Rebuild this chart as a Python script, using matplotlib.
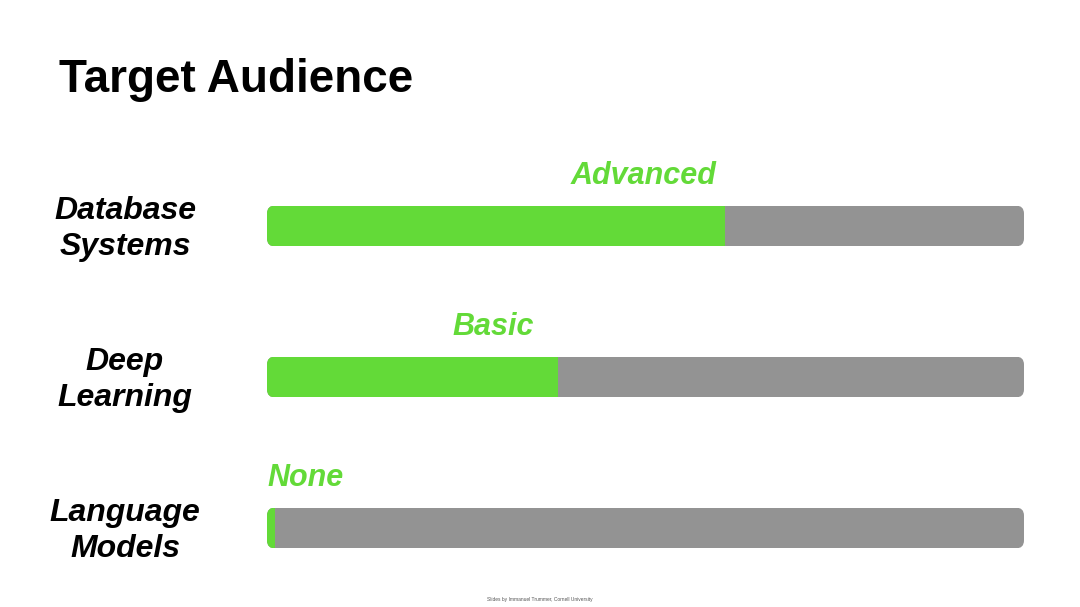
import matplotlib
matplotlib.use("Agg")
import matplotlib.pyplot as plt
from matplotlib.patches import FancyBboxPatch
from matplotlib.transforms import blended_transform_factory

plt.rcParams['font.family'] = ['Liberation Sans', 'DejaVu Sans']

# data
categories = ['Database\nSystems', 'Deep\nLearning', 'Language\nModels']
levels = ['Advanced', 'Basic', 'None']
values = [0.605, 0.384, 0.01]

# layout for the level labels (fraction of bar length, alignment)
label_x = [0.497, 0.299, 0.0]
label_ha = ['center', 'center', 'left']

green = '#63da38'
grey = '#939393'

fig = plt.figure(figsize=(10.8, 6.07), dpi=100)
fig.patch.set_facecolor('white')

ax = fig.add_axes([267 / 1080, 1 - 603.5 / 607, 757 / 1080, 453 / 607])
ax.set_xlim(0, 1)
ax.set_ylim(2.5, -0.5)
ax.axis('off')

bar_h = 0.27
# y units -> x units aspect so the rounding is circular
aspect = 757 / 151
r = 8 / 757

for i, (cat, lev, v) in enumerate(zip(categories, levels, values)):
    clip = FancyBboxPatch((0, i - bar_h / 2), 1, bar_h,
                          boxstyle='round,pad=0,rounding_size=%f' % r,
                          mutation_aspect=aspect, transform=ax.transData,
                          facecolor='none', edgecolor='none')
    ax.add_patch(clip)
    gb = ax.barh(i, 1, height=bar_h, color=grey, left=0)
    fb = ax.barh(i, v, height=bar_h, color=green, left=0)
    for b in list(gb) + list(fb):
        b.set_clip_path(clip)
    ax.text(label_x[i], i - 0.33, lev, ha=label_ha[i], va='center',
            color=green, fontsize=22, fontweight='bold', style='italic')

tr = blended_transform_factory(fig.transFigure, ax.transData)
for i, cat in enumerate(categories):
    ax.text(125 / 1080, i + 0.02, cat, transform=tr, ha='center', va='center',
            fontsize=23, fontweight='bold', style='italic', color='black',
            linespacing=1.24)

fig.text(59 / 1080, 1 - 92 / 607, 'Target Audience', ha='left', va='baseline',
         fontsize=33, fontweight='bold', color='black')

fig.text(540 / 1080, 1 - 600 / 607,
         'Slides by Immanuel Trummer, Cornell University',
         ha='center', va='center', fontsize=3.5, color='#555555')

fig.savefig('out.png', dpi=100, facecolor='white')
